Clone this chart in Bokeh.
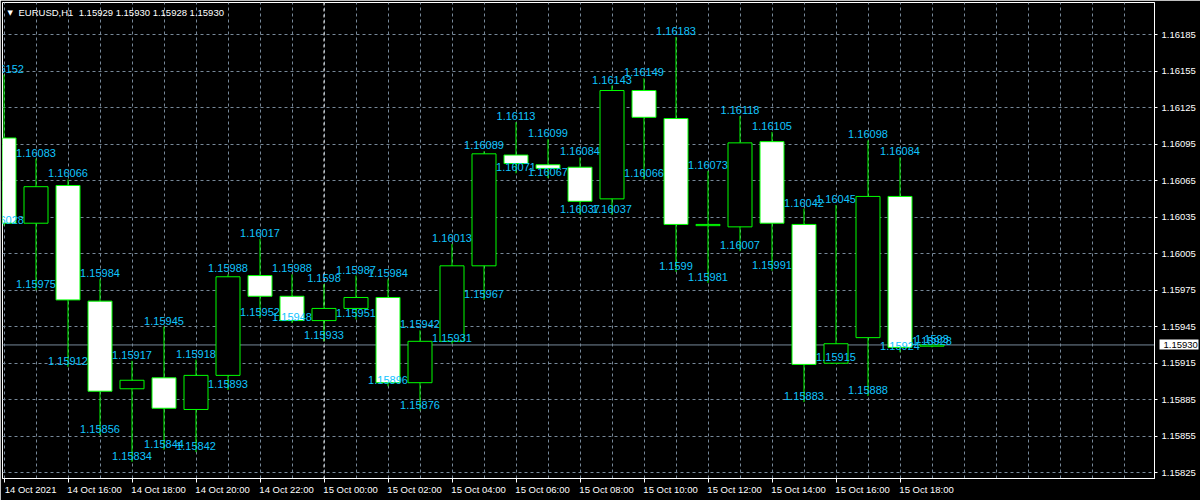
from bokeh.plotting import figure
from bokeh.models import (Range1d, FixedTicker, PrintfTickFormatter, LinearAxis,
                          Span, Label, ColumnDataSource)
from bokeh.core.properties import value
from bokeh.embed import file_html
from bokeh.resources import INLINE

# ---------------- data (EURUSD H1, 14 Oct 2021 14:00 -> 15 Oct 19:00) ----------------
symbol_title = "EURUSD,H1\u00a0 1.15929 1.15930 1.15928 1.15930"
opens = [1.16100, 1.16030, 1.16061, 1.15966, 1.15894, 1.15903, 1.15877, 1.15905, 1.15987, 1.15970,
         1.15950, 1.15960, 1.15969, 1.15899, 1.15933, 1.15995, 1.16086, 1.16078, 1.16076, 1.16050,
         1.16139, 1.16116, 1.16028, 1.16027, 1.16097, 1.16029, 1.15915, 1.15936, 1.16052, 1.15929]
highs = [1.16152, 1.16083, 1.16066, 1.15984, 1.15917, 1.15945, 1.15918, 1.15988, 1.16017, 1.15988,
         1.15980, 1.15987, 1.15984, 1.15942, 1.16013, 1.16089, 1.16113, 1.16099, 1.16084, 1.16143,
         1.16149, 1.16183, 1.16073, 1.16118, 1.16105, 1.16042, 1.16045, 1.16098, 1.16084, 1.15930]
lows = [1.16028, 1.15975, 1.15912, 1.15856, 1.15834, 1.15844, 1.15842, 1.15893, 1.15952, 1.15948,
        1.15933, 1.15951, 1.15896, 1.15876, 1.15931, 1.15967, 1.16071, 1.16067, 1.16037, 1.16037,
        1.16066, 1.15990, 1.15981, 1.16007, 1.15991, 1.15883, 1.15915, 1.15888, 1.15924, 1.15928]
closes = [1.16030, 1.16060, 1.15967, 1.15892, 1.15901, 1.15878, 1.15905, 1.15986, 1.15970, 1.15950,
          1.15960, 1.15969, 1.15899, 1.15933, 1.15995, 1.16087, 1.16079, 1.16075, 1.16048, 1.16139,
          1.16117, 1.16029, 1.16029, 1.16096, 1.16030, 1.15914, 1.15931, 1.16052, 1.15928, 1.15930]

time_ticks = [0, 2, 4, 6, 8, 10, 12, 14, 16, 18, 20, 22, 24, 26, 28]
time_labels = ["14 Oct 2021", "14 Oct 16:00", "14 Oct 18:00", "14 Oct 20:00", "14 Oct 22:00",
               "15 Oct 00:00", "15 Oct 02:00", "15 Oct 04:00", "15 Oct 06:00", "15 Oct 08:00",
               "15 Oct 10:00", "15 Oct 12:00", "15 Oct 14:00", "15 Oct 16:00", "15 Oct 18:00"]
grid_hours = list(range(36))
price_ticks = [1.15825, 1.15855, 1.15885, 1.15915, 1.15945, 1.15975, 1.16005,
               1.16035, 1.16065, 1.16095, 1.16125, 1.16155, 1.16185]
current_price = 1.15930
day_break = 10

# ---------------- derived ----------------
idx = list(range(len(opens)))
def fmt(v):
    return f"{v:.5f}".rstrip("0")

src = ColumnDataSource(dict(
    x=idx, o=opens, h=highs, l=lows, c=closes,
    top=[max(a, b) for a, b in zip(opens, closes)],
    bot=[min(a, b) for a, b in zip(opens, closes)],
    fill=["white" if c < o else "black" for o, c in zip(opens, closes)],
    hl=[fmt(v) for v in highs], ll=[fmt(v) for v in lows],
))

GRID = "#778899"
LIME = "#00ff00"
LBL = "#10c4ff"
AXF = "Liberation Sans"
X0, X1 = -0.047, 35.953
Y0, Y1 = 1.158203, 1.162113

p = figure(width=1200, height=500, output_backend="svg", toolbar_location=None,
           x_range=Range1d(X0, X1), y_range=Range1d(Y0, Y1),
           y_axis_location="right", x_axis_location="below",
           background_fill_color="black", border_fill_color="black",
           min_border_left=2, min_border_top=2, min_border_right=46, min_border_bottom=22)
p.outline_line_color = "white"

# grids
p.xgrid.ticker = FixedTicker(ticks=grid_hours)
p.ygrid.ticker = FixedTicker(ticks=price_ticks)
for g in (p.xgrid, p.ygrid):
    g.grid_line_color = GRID
    g.grid_line_dash = "3 3"
    g.grid_line_width = 1

# right price axis
ya = p.yaxis[0]
ya.ticker = FixedTicker(ticks=price_ticks)
ya.formatter = PrintfTickFormatter(format="%.5f")
ya.axis_line_color = "white"
ya.major_tick_line_color = "white"
ya.major_tick_out = 3
ya.major_tick_in = 0
ya.minor_tick_out = 0
ya.minor_tick_in = 0
ya.major_label_standoff = 4
ya.major_label_text_color = "white"
ya.major_label_text_font = AXF
ya.major_label_text_font_size = "9.5px"

# current price marker on the price scale: a second right axis whose single,
# thick inward tick forms the white box and whose label sits on top of it
yb = LinearAxis(ticker=FixedTicker(ticks=[current_price]),
                formatter=PrintfTickFormatter(format="%.5f"),
                axis_line_color=None,
                major_tick_line_color="white", major_tick_line_width=10,
                major_tick_in=39, major_tick_out=0,
                minor_tick_in=0, minor_tick_out=0, minor_tick_line_color=None,
                major_label_standoff=-35, major_label_text_color="black",
                major_label_text_font=AXF, major_label_text_font_size="9.5px")
p.add_layout(yb, "right")

# bottom axis: tick marks only
xa = p.xaxis[0]
xa.ticker = FixedTicker(ticks=time_ticks)
xa.axis_line_color = "white"
xa.major_tick_line_color = "white"
xa.major_tick_out = 4
xa.major_tick_in = 0
xa.minor_tick_out = 0
xa.minor_tick_in = 0
xa.major_label_standoff = 0
xa.major_label_text_font_size = "0px"
xa.major_label_text_color = None

# bottom axis: labels (left-aligned to the ticks, as in MT4)
shift = 0.83
lab_pos = [round(t + shift, 2) for t in time_ticks]
xl = LinearAxis(ticker=FixedTicker(ticks=lab_pos),
                major_label_overrides={pos: txt for pos, txt in zip(lab_pos, time_labels)},
                axis_line_color=None, major_tick_line_color=None, minor_tick_line_color=None,
                major_tick_out=0, major_tick_in=0, minor_tick_out=0, minor_tick_in=0,
                major_label_standoff=1, major_label_text_color="white",
                major_label_text_font=AXF, major_label_text_font_size="9.5px")
p.add_layout(xl, "below")

# day separator and bid line
p.add_layout(Span(location=day_break, dimension="height", line_color="white",
                  line_dash="3 3", line_width=1, level="underlay"))
p.add_layout(Span(location=current_price, dimension="width", line_color=GRID,
                  line_width=1, level="underlay"))

# candles
p.segment(x0="x", y0="l", x1="x", y1="h", source=src, line_color=LIME, line_width=1)
p.vbar(x="x", width=0.75, top="top", bottom="bot", source=src,
       fill_color="fill", line_color=LIME, line_width=1)

# high / low text labels
p.text(x="x", y="h", text="hl", source=src, text_color=LBL, text_align="center",
       text_baseline="bottom", y_offset=-2, text_font=value(AXF), text_font_size=value("11px"))
p.text(x="x", y="l", text="ll", source=src, text_color=LBL, text_align="center",
       text_baseline="bottom", y_offset=-2, text_font=value(AXF), text_font_size=value("11px"))

# title inside the chart
p.add_layout(Label(x=X0, y=Y1, x_offset=16, y_offset=-4, text=symbol_title,
                   text_color="white", text_font=AXF, text_font_size="9.5px",
                   text_baseline="top", text_align="left"))
p.add_layout(Label(x=X0, y=Y1, x_offset=5, y_offset=-6, text="\u25bc",
                   text_color="white", text_font="DejaVu Sans", text_font_size="7px",
                   text_baseline="top", text_align="left"))

open("out.html", "w").write(file_html(p, INLINE))
